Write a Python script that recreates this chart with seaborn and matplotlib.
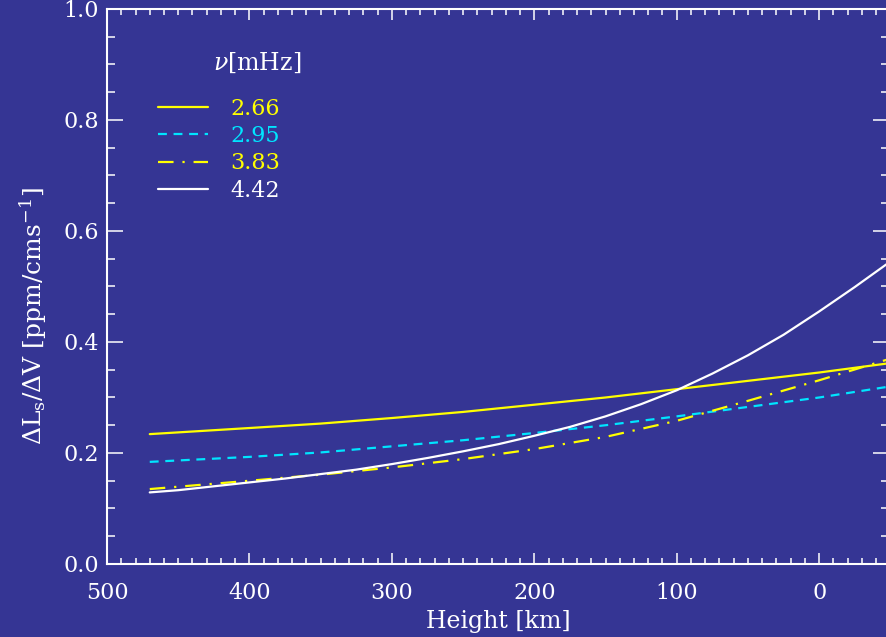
import numpy as np
import pandas as pd
import matplotlib
matplotlib.use("Agg")
import matplotlib.pyplot as plt
import seaborn as sns
from matplotlib.ticker import MultipleLocator

# ---- data ----
height = [470, 400, 350, 300, 250, 200, 150, 100, 50, 0, -50]
height_fine = [470, 450, 425, 400, 375, 350, 325, 300, 275, 250, 225, 200,
               175, 150, 125, 100, 75, 50, 25, 0, -25, -50]
nu_labels = ["2.66", "2.95", "3.83", "4.42"]
dl_266 = [0.234, 0.245, 0.253, 0.263, 0.274, 0.287, 0.300, 0.315, 0.330, 0.345, 0.362]
dl_295 = [0.184, 0.193, 0.201, 0.212, 0.223, 0.236, 0.250, 0.266, 0.283, 0.300, 0.320]
dl_383 = [0.135, 0.150, 0.161, 0.174, 0.189, 0.207, 0.229, 0.258, 0.294, 0.331, 0.370]
dl_442 = [0.129, 0.133, 0.140, 0.147, 0.154, 0.162, 0.170, 0.180, 0.191, 0.203,
          0.216, 0.231, 0.247, 0.266, 0.288, 0.313, 0.343, 0.376, 0.413, 0.455,
          0.499, 0.545]
xticks = [500, 400, 300, 200, 100, 0]
yticks = [0.0, 0.2, 0.4, 0.6, 0.8, 1.0]

series = [(height, dl_266), (height, dl_295), (height, dl_383), (height_fine, dl_442)]
colors = ["#ffff00", "#00e5ff", "#ffff00", "#ffffff"]
styles = ["-", (0, (4, 3)), (0, (7, 4, 1, 4)), "-"]

bg = "#353594"
sns.set_style("ticks")
plt.rcParams["font.family"] = ["DejaVu Serif"]
plt.rcParams["mathtext.fontset"] = "dejavuserif"

fig = plt.figure(figsize=(8.86, 6.37), dpi=100, facecolor=bg)
ax = fig.add_axes([0.1208, 0.1146, 0.8825, 0.8713])
ax.set_facecolor(bg)

for (hx, vals), lab, c, ls in zip(series, nu_labels, colors, styles):
    df = pd.DataFrame({"h": hx, "v": vals})
    sns.lineplot(data=df, x="h", y="v", ax=ax, color=c, linestyle=ls,
                 linewidth=1.6, label=lab, sort=False)

ax.set_xlim(500, -49)
ax.set_ylim(0.0, 1.0)
ax.set_xticks(xticks)
ax.set_yticks(yticks)
ax.set_xticklabels([str(t) for t in xticks])
ax.set_yticklabels([f"{t:.1f}" for t in yticks])
ax.xaxis.set_minor_locator(MultipleLocator(10))
ax.yaxis.set_minor_locator(MultipleLocator(0.05))

for s in ax.spines.values():
    s.set_color("white")
    s.set_linewidth(1.5)

ax.tick_params(axis="both", which="both", direction="in", colors="white",
               top=True, right=True, labelsize=16, width=1.1)
ax.tick_params(axis="x", which="major", length=8, pad=13)
ax.tick_params(axis="x", which="minor", length=4.3)
ax.tick_params(axis="y", which="major", length=11.5, pad=6)
ax.tick_params(axis="y", which="minor", length=5.8)

ax.set_xlabel("Height [km]", color="white", fontsize=17)
ax.xaxis.set_label_coords(0.5, -0.082)
ax.set_ylabel(r"$\Delta$L$_\mathrm{s}$/$\Delta$V [ppm/cms$^{-1}$]",
              color="white", fontsize=18)
ax.yaxis.set_label_coords(-0.074, 0.447)

leg = ax.legend(loc="upper left", bbox_to_anchor=(0.04, 0.876), frameon=False,
                fontsize=16, labelcolor="linecolor", handlelength=2.25,
                handletextpad=1.0, labelspacing=0.24)
ax.text(0.248, 0.903, r"$\nu$[mHz]", transform=ax.transAxes, color="white",
        fontsize=17, ha="right", va="center")

fig.savefig("out.png", dpi=100, facecolor=bg)
